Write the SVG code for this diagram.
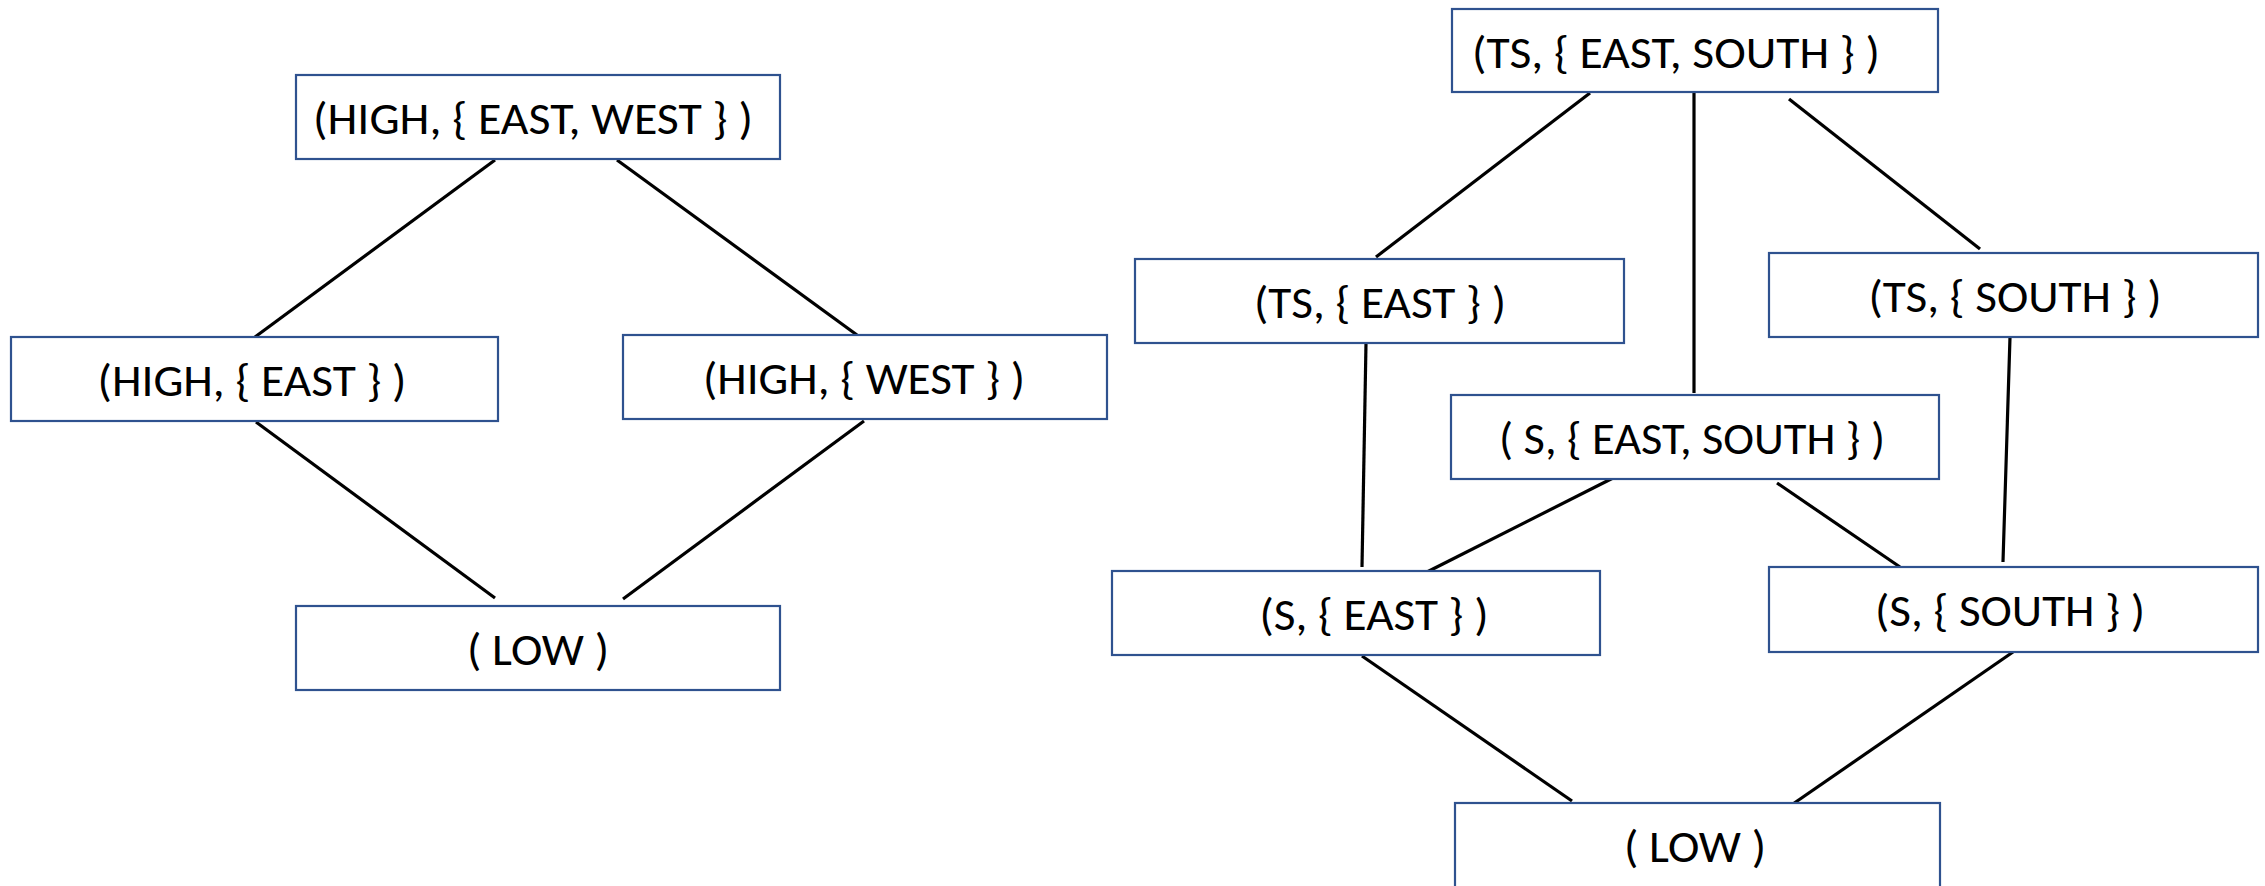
<svg xmlns="http://www.w3.org/2000/svg" width="2265" height="886" viewBox="0 0 2265 886">
<style>
.box{fill:#ffffff;stroke:#2F528F;stroke-width:2.2}
.lbl{font-family:Carlito,Lato,"Open Sans",sans-serif;font-size:45px;fill:#000000;text-anchor:middle}
.edge{stroke:#000000;stroke-width:3.2;fill:none}
</style>
<rect width="2265" height="886" fill="#ffffff"/>
<g id="connectors">
<line class="edge" x1="495" y1="160" x2="255" y2="337"/>
<line class="edge" x1="617" y1="160" x2="857" y2="335"/>
<line class="edge" x1="256" y1="422" x2="495" y2="598"/>
<line class="edge" x1="864" y1="421" x2="623" y2="599"/>
<line class="edge" x1="1590" y1="93" x2="1376" y2="257"/>
<line class="edge" x1="1694" y1="92" x2="1694" y2="393"/>
<line class="edge" x1="1789" y1="99" x2="1980" y2="249"/>
<line class="edge" x1="1366" y1="343" x2="1362" y2="567"/>
<line class="edge" x1="1615" y1="477" x2="1427" y2="572"/>
<line class="edge" x1="1777" y1="483" x2="1900" y2="567"/>
<line class="edge" x1="2010" y1="337" x2="2003" y2="562"/>
<line class="edge" x1="1362" y1="656" x2="1572" y2="801"/>
<line class="edge" x1="2013" y1="652" x2="1790" y2="806"/>
</g>
<g id="n-high-ew"><rect class="box" x="296" y="75" width="484" height="84"/><text class="lbl" x="533" y="134" textLength="440" lengthAdjust="spacingAndGlyphs">(HIGH, { EAST, WEST } )</text></g>
<g id="n-high-e"><rect class="box" x="11" y="337" width="487" height="84"/><text class="lbl" x="252" y="396" textLength="309" lengthAdjust="spacingAndGlyphs">(HIGH, { EAST } )</text></g>
<g id="n-high-w"><rect class="box" x="623" y="335" width="484" height="84"/><text class="lbl" x="864" y="394" textLength="322" lengthAdjust="spacingAndGlyphs">(HIGH, { WEST } )</text></g>
<g id="n-low-left"><rect class="box" x="296" y="606" width="484" height="84"/><text class="lbl" x="538" y="665" textLength="142" lengthAdjust="spacingAndGlyphs">( LOW )</text></g>
<g id="n-ts-es"><rect class="box" x="1452" y="9" width="486" height="83"/><text class="lbl" x="1676" y="68" textLength="408" lengthAdjust="spacingAndGlyphs">(TS, { EAST, SOUTH } )</text></g>
<g id="n-ts-e"><rect class="box" x="1135" y="259" width="489" height="84"/><text class="lbl" x="1380" y="318" textLength="252" lengthAdjust="spacingAndGlyphs">(TS, { EAST } )</text></g>
<g id="n-ts-s"><rect class="box" x="1769" y="253" width="489" height="84"/><text class="lbl" x="2015" y="312" textLength="293" lengthAdjust="spacingAndGlyphs">(TS, { SOUTH } )</text></g>
<g id="n-s-es"><rect class="box" x="1451" y="395" width="488" height="84"/><text class="lbl" x="1692" y="454" textLength="386" lengthAdjust="spacingAndGlyphs">( S, { EAST, SOUTH } )</text></g>
<g id="n-s-e"><rect class="box" x="1112" y="571" width="488" height="84"/><text class="lbl" x="1374" y="630" textLength="229" lengthAdjust="spacingAndGlyphs">(S, { EAST } )</text></g>
<g id="n-s-s"><rect class="box" x="1769" y="567" width="489" height="85"/><text class="lbl" x="2010" y="626" textLength="270" lengthAdjust="spacingAndGlyphs">(S, { SOUTH } )</text></g>
<g id="n-low-right"><rect class="box" x="1455" y="803" width="485" height="86"/><text class="lbl" x="1695" y="862" textLength="142" lengthAdjust="spacingAndGlyphs">( LOW )</text></g>
</svg>
